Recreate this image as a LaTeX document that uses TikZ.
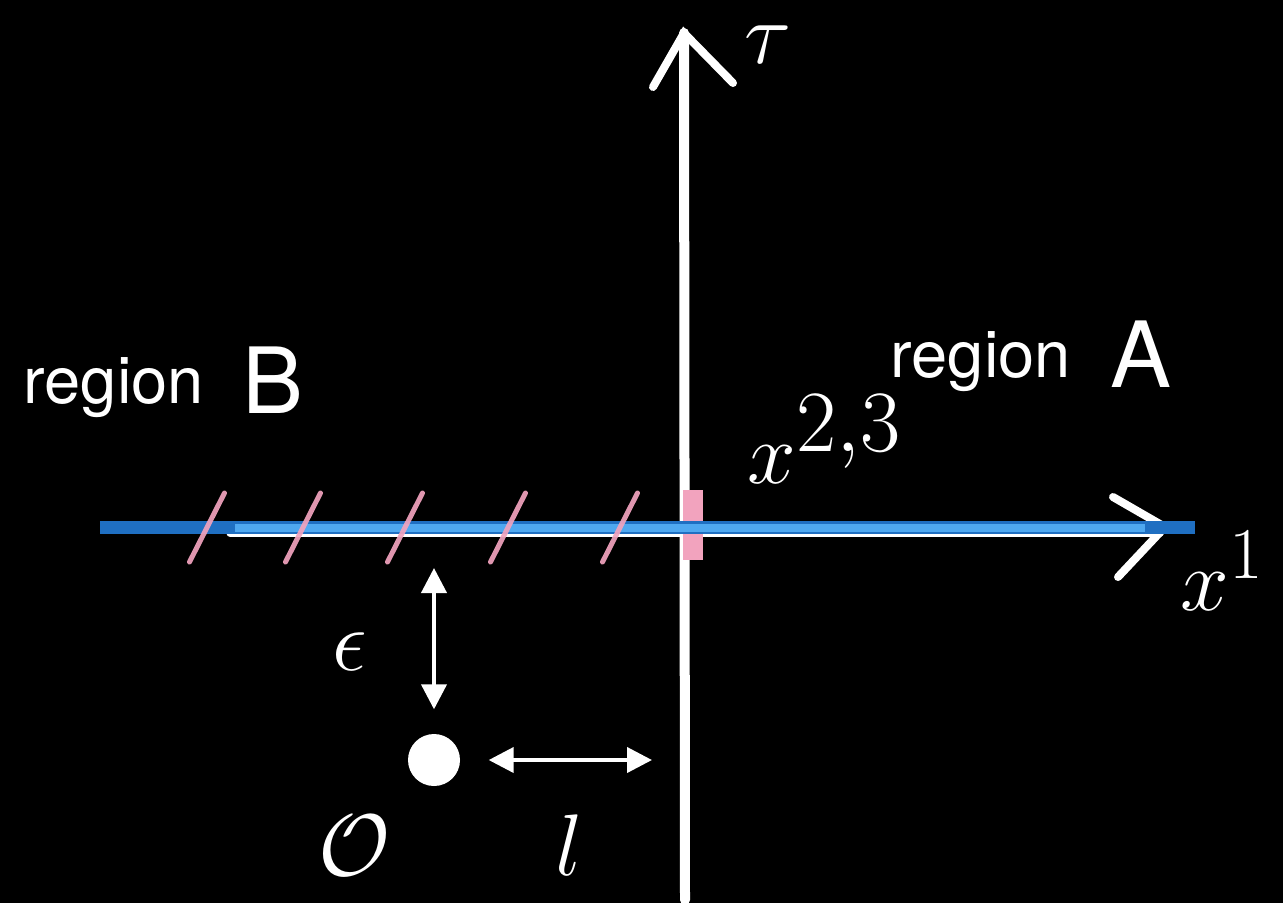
\documentclass[tikz,border=0pt]{standalone}
\usepackage{fontspec}
\newfontfamily\regionfont{TeX Gyre Heros}
\usepackage{xcolor}
\definecolor{axisBlue}{HTML}{1F6FC2}
\definecolor{axisBlueLt}{HTML}{4FA8F0}
\definecolor{hatchPink}{HTML}{F2A3BE}
\usepackage{tikz}
\usetikzlibrary{calc,positioning,arrows.meta}

\begin{document}
\begin{tikzpicture}[
            chalk/.style={draw=white, line cap=round, line width=0.1cm},
            dim/.style={draw=white, line width=0.04cm,
                        {Triangle[width=0.25cm,length=0.25cm]}-{Triangle[width=0.25cm,length=0.25cm]}},
            mth/.style={text=white, inner sep=0, anchor=base west,
                        font=\fontsize{28}{34}\selectfont},
            reg/.style={text=white, inner sep=0, anchor=base west,
                        font=\regionfont\fontsize{18.5}{22}\selectfont},
            big/.style={reg, font=\regionfont\fontsize{26}{30}\selectfont}]
        \path[use as bounding box, fill=black] (-6.85,-3.76) rectangle (5.98,5.27);
        % axes
        \coordinate (tauFoot) at (0,-3.73);
        \coordinate (tauTip) at (-0.01,4.94);
        \coordinate (xTip) at (4.80,0);
        \draw[chalk] (tauFoot) -- (tauTip);
        \draw[chalk, line width=0.08cm] (-0.32,4.40) -- (tauTip) -- (0.48,4.44);
        \draw[chalk, line width=0.07cm] (-4.55,-0.06) -- (4.75,-0.06);
        \draw[chalk, line width=0.08cm] (4.28,0.30) -- (xTip) -- (4.33,-0.50);
        \fill[hatchPink] (-0.02,-0.33) rectangle (0.18,0.37);
        \draw[axisBlue, line width=0.13cm] (-5.85,0) -- (5.10,0);
        \draw[axisBlueLt, line width=0.08cm] (-4.50,-0.01) -- (4.60,-0.01);
        % cut along region B
        \foreach \c in {-4.78,-3.82,-2.80,-1.77,-0.65}
          \draw[hatchPink, opacity=0.92, line width=0.05cm, line cap=round]
            (\c-0.175,-0.35) -- (\c+0.175,0.34);
        % labels
        \node[mth] (tau) at (0.59,4.64) {$\tau$};
        \node[mth] (xOne) at (4.95,-0.83) {$x^1$};
        \node[mth, font=\fontsize{33}{40}\selectfont] (xPerp) at (0.62,0.44) {$x^{2,3}$};
        \node[reg] (regA) at (2.05,1.50) {region};
        \node[big] (labA) at (4.25,1.40) {A};
        \node[reg] (regB) at (-6.62,1.24) {region};
        \node[big] (labB) at (-4.43,1.14) {B};
        % operator and distances
        \node[circle, fill=white, minimum size=0.52cm, inner sep=0] (obs) at (-2.51,-2.33) {};
        \coordinate (epsTop) at (-2.51,-0.41);
        \draw[dim, shorten >=0.24cm] (epsTop) -- (obs.north);
        \draw[dim, shorten <=0.28cm, shorten >=0.33cm] (obs.east) -- (obs -| tauFoot);
        \node[mth] (eps) at (-3.53,-1.43) {$\epsilon$};
        \node[mth] (opO) at (-3.67,-3.48) {$\mathcal{O}$};
        \node[mth] (len) at (-1.30,-3.48) {$l$};
      \end{tikzpicture}
\end{document}
